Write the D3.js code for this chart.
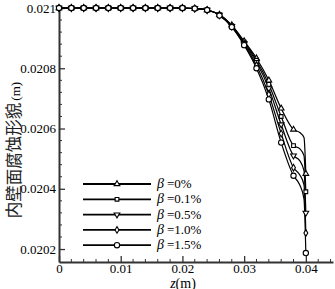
<!DOCTYPE html>
<html>
<head>
<meta charset="utf-8">
<script src="https://cdn.jsdelivr.net/npm/d3@7"></script>
<style>
body { margin: 0; background: #fff; }
text { font-family: "Liberation Serif", "Times New Roman", serif; fill: #000; }
</style>
</head>
<body>
<div id="chart"></div>
<script>
// data
const z = [0, 0.002, 0.004, 0.006, 0.008, 0.010, 0.012, 0.014, 0.016, 0.018, 0.020,
  0.022, 0.024, 0.026, 0.028, 0.030, 0.032, 0.034, 0.036, 0.038, 0.039, 0.0397, 0.040];
const flat = [0.021, 0.021, 0.021, 0.021, 0.021, 0.021, 0.021, 0.021, 0.021, 0.021, 0.021];
const beta0 = flat.concat([0.0209983, 0.0209933, 0.0209783, 0.0209433, 0.02089, 0.0208333,
  0.02076, 0.0206667, 0.0205967, 0.0205867, 0.02057, 0.02045]);
const beta01 = flat.concat([0.0209983, 0.0209933, 0.0209777, 0.0209417, 0.0208867, 0.0208267,
  0.0207467, 0.02064, 0.0205433, 0.0205333, 0.02051, 0.02039]);
const beta05 = flat.concat([0.0209983, 0.0209933, 0.0209767, 0.02094, 0.0208833, 0.02082,
  0.0207333, 0.0206133, 0.02051, 0.0204933, 0.02046, 0.02032]);
const beta10 = flat.concat([0.0209983, 0.0209933, 0.020976, 0.0209383, 0.02088, 0.02081,
  0.0207133, 0.0205833, 0.02047, 0.0204467, 0.0204133, 0.0202533]);
const beta15 = flat.concat([0.0209983, 0.0209933, 0.020975, 0.0209367, 0.0208767, 0.0208,
  0.0206967, 0.0205533, 0.0204433, 0.0204133, 0.0203667, 0.0201867]);

const seriesNames = ["0%", "0.1%", "0.5%", "1.0%", "1.5%"];
const seriesVals = [beta0, beta01, beta05, beta10, beta15];

const xTicks = [0, 0.01, 0.02, 0.03, 0.04];
const xTickLabels = ["0", "0.01", "0.02", "0.03", "0.04"];
const yTicks = [0.0202, 0.0204, 0.0206, 0.0208, 0.021];
const yTickLabels = ["0.0202", "0.0204", "0.0206", "0.0208", "0.021"];

const width = 335, height = 289;

const svg = d3.select("#chart")
    .append("svg")
    .attr("width", width)
    .attr("height", height);

const x = d3.scaleLinear().domain([0, 0.0444]).range([59, 333]);
const y = d3.scaleLinear().domain([0.020157, 0.021]).range([262, 8]);

// minor ticks
const xMinor = d3.range(0, 0.0441, 0.002).filter(v => xTicks.every(t => Math.abs(t - v) > 1e-9));
const yMinor = d3.range(0.0202, 0.02100001, 0.00004).filter(v => yTicks.every(t => Math.abs(t - v) > 1e-9));

const axisColor = "#333";

svg.append("g")
    .attr("transform", "translate(0,262)")
    .selectAll("line")
    .data(xMinor)
    .enter()
    .append("line")
    .attr("x1", d => x(d)).attr("x2", d => x(d))
    .attr("y1", 0).attr("y2", -3)
    .attr("stroke", axisColor);

svg.append("g")
    .attr("transform", "translate(59,0)")
    .selectAll("line")
    .data(yMinor)
    .enter()
    .append("line")
    .attr("y1", d => y(d)).attr("y2", d => y(d))
    .attr("x1", 0).attr("x2", 3)
    .attr("stroke", axisColor);

const xAxis = svg.append("g")
    .attr("transform", "translate(0,262)")
    .call(d3.axisBottom(x).tickValues(xTicks).tickFormat((d, i) => xTickLabels[i])
        .tickSizeInner(-6).tickSizeOuter(0).tickPadding(2));

const yAxis = svg.append("g")
    .attr("transform", "translate(59,0)")
    .call(d3.axisLeft(y).tickValues(yTicks).tickFormat((d, i) => yTickLabels[i])
        .tickSizeInner(-6).tickSizeOuter(0).tickPadding(3));

[xAxis, yAxis].forEach(a => {
    a.attr("font-family", "Liberation Serif").attr("font-size", 13);
    a.select(".domain").attr("stroke", axisColor).attr("stroke-width", 2);
    a.selectAll(".tick line").attr("stroke", axisColor).attr("stroke-width", 1.3);
    a.selectAll(".tick text")
        .style("font-family", "'Liberation Serif', serif")
        .style("font-size", "13px")
        .attr("fill", "#000");
});
xAxis.selectAll(".tick text").attr("dy", "0.7em");

// axis titles
const xt = svg.append("text")
    .attr("x", 183)
    .attr("y", 287.5)
    .attr("text-anchor", "middle")
    .style("font-size", "14px");
xt.append("tspan").style("font-style", "italic").text("z");
xt.append("tspan").text("(m)");

const yt = svg.append("text")
    .attr("transform", "translate(20,150) rotate(-90)")
    .attr("text-anchor", "middle");
yt.append("tspan").style("font-family", "'Noto Sans CJK SC', sans-serif")
    .style("font-size", "16.5px").attr("fill", "#222").text("内壁面腐蚀形貌");
yt.append("tspan").style("font-size", "13px").attr("dx", 2).text("(m)");

// symbols
const tri = d3.symbol().type(d3.symbolTriangle).size(14);
const symbols = [
    { path: tri(), rot: 0 },
    { path: d3.symbol().type(d3.symbolSquare).size(14)(), rot: 0 },
    { path: tri(), rot: 180 },
    { path: d3.symbol().type(d3.symbolDiamond).size(13)(), rot: 0 },
    { path: d3.symbol().type(d3.symbolCircle).size(22)(), rot: 0 }
];

const line = d3.line()
    .x(d => x(d[0]))
    .y(d => y(d[1]))
    .curve(d3.curveMonotoneX);

const isMarker = v => Math.abs(v / 0.002 - Math.round(v / 0.002)) < 1e-6;

seriesVals.forEach((vals, k) => {
    const pts = z.map((zz, i) => [zz, vals[i]]);
    svg.append("path")
        .attr("d", line(pts))
        .attr("fill", "none")
        .attr("stroke", "#000")
        .attr("stroke-width", 1.2);
});

seriesVals.forEach((vals, k) => {
    const pts = z.map((zz, i) => [zz, vals[i]]).filter(p => isMarker(p[0]));
    svg.append("g")
        .selectAll("path")
        .data(pts)
        .enter()
        .append("path")
        .attr("d", symbols[k].path)
        .attr("transform", d => `translate(${x(d[0])},${y(d[1])}) rotate(${symbols[k].rot})`)
        .attr("fill", "#fff")
        .attr("stroke", "#000")
        .attr("stroke-width", 1.1);
});

// legend
const legend = svg.append("g");
seriesNames.forEach((name, k) => {
    const ly = 184 + k * 15.3;
    legend.append("line")
        .attr("x1", 83).attr("x2", 151)
        .attr("y1", ly).attr("y2", ly)
        .attr("stroke", "#000")
        .attr("stroke-width", 1.8);
    legend.append("path")
        .attr("d", symbols[k].path)
        .attr("transform", `translate(117,${ly}) rotate(${symbols[k].rot})`)
        .attr("fill", "#fff")
        .attr("stroke", "#000")
        .attr("stroke-width", 1.1);
    const t = legend.append("text")
        .attr("x", 157)
        .attr("y", ly + 4);
    t.append("tspan").style("font-style", "italic").style("font-size", "14px").text("β");
    t.append("tspan").attr("dx", 3).style("font-size", "13px").text("=" + name);
});
</script>
</body>
</html>
